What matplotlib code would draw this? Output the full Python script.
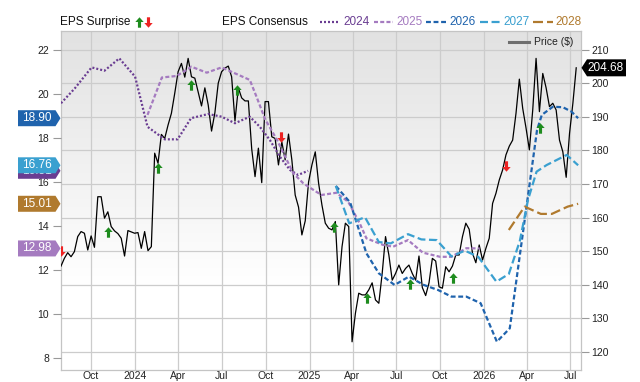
import numpy as np
import pandas as pd
import matplotlib
matplotlib.use("Agg")
import matplotlib.pyplot as plt
import matplotlib.dates as mdates
from matplotlib.path import Path
from matplotlib.patches import Polygon
from matplotlib.lines import Line2D

plt.rcParams['font.family'] = ['Liberation Sans', 'DejaVu Sans']

# ---------------- data ----------------
price_start = '2023-07-31'
price = [145.5, 147.8, 149.5, 148.3, 149.8, 154.3, 155.8, 155.3, 150.3, 154.5,
         151.1, 166.2, 166.2, 159.8, 161.7, 157.3, 156.0, 155.2, 153.8, 148.5,
         156.1, 155.7, 155.3, 155.5, 150.8, 155.8, 150.1, 151.3, 179.2, 176.2,
         184.8, 183.6, 187.6, 191.1, 197.1, 203.5, 206.0, 201.9, 207.5, 202.0,
         201.6, 197.5, 193.3, 198.7, 193.6, 185.8, 191.3, 200.1, 203.5, 204.6,
         205.2, 202.0, 188.8, 198.7, 195.7, 194.8, 194.8, 180.5, 172.2, 180.7,
         170.4, 194.6, 194.6, 184.1, 183.6, 175.7, 182.6, 177.2, 184.9, 177.2,
         166.7, 163.1, 154.8, 159.0, 170.6, 175.7, 179.6, 170.2, 163.7, 158.3,
         156.8, 156.3, 158.8, 139.9, 151.3, 158.3, 157.3, 122.9, 131.4, 137.4,
         136.9, 136.9, 138.4, 140.5, 135.4, 134.4, 143.3, 154.3, 148.8, 141.3,
         143.3, 145.8, 143.3, 144.8, 145.8, 143.3, 141.3, 148.5, 139.1, 136.7,
         140.5, 147.8, 147.0, 139.3, 138.9, 145.3, 143.8, 145.5, 148.8, 148.8,
         154.3, 158.3, 156.5, 149.3, 146.5, 151.8, 147.3, 150.8, 153.8, 164.2,
         167.2, 171.2, 174.2, 178.7, 181.3, 183.1, 191.1, 201.3, 192.6, 186.7,
         180.2, 192.1, 207.5, 191.6, 203.0, 198.7, 193.1, 194.1, 192.1, 183.1,
         179.6, 172.0, 185.1, 194.1, 204.68]

eps24_dates = ['2023-07-31', '2023-08-29', '2023-10-03', '2023-10-30', '2023-11-30',
               '2024-01-02', '2024-01-28', '2024-03-04', '2024-03-31', '2024-04-28',
               '2024-06-03', '2024-07-01', '2024-07-29', '2024-08-29', '2024-09-19',
               '2024-10-10', '2024-10-31', '2024-11-21', '2024-12-08', '2024-12-29']
eps24 = [19.58, 20.26, 21.21, 21.06, 21.62, 20.79, 18.51, 17.94, 17.94, 18.90,
         19.09, 18.97, 18.67, 18.97, 18.51, 17.91, 17.15, 16.55, 16.32, 16.51]

eps25_dates = ['2024-01-28', '2024-02-27', '2024-03-29', '2024-04-29', '2024-05-31',
               '2024-07-01', '2024-07-29', '2024-08-29', '2024-09-12', '2024-09-30',
               '2024-10-25', '2024-11-28', '2024-12-19', '2025-01-12', '2025-01-26',
               '2025-02-26', '2025-03-23', '2025-04-16', '2025-04-30', '2025-06-04',
               '2025-06-25', '2025-07-26', '2025-08-26', '2025-10-01', '2025-10-25',
               '2025-11-25', '2025-12-23']
eps25 = [19.05, 20.75, 20.82, 21.24, 20.97, 21.21, 20.94, 20.64, 19.88, 18.86,
         17.91, 16.40, 15.94, 15.60, 15.41, 15.51, 15.10, 14.12, 13.44, 13.14,
         13.06, 13.36, 12.79, 12.60, 12.60, 12.99, 12.98]

eps26_dates = ['2025-02-25', '2025-03-27', '2025-04-10', '2025-04-30', '2025-05-26',
               '2025-06-28', '2025-07-28', '2025-08-28', '2025-09-27', '2025-10-25',
               '2025-11-25', '2025-12-25', '2026-01-28', '2026-02-24', '2026-04-22',
               '2026-05-02', '2026-05-25', '2026-06-15', '2026-07-03', '2026-07-17']
eps26 = [15.82, 15.07, 14.12, 12.76, 11.85, 11.32, 11.70, 11.32, 11.09, 10.79,
         10.79, 10.49, 8.74, 9.35, 18.36, 19.05, 19.42, 19.40, 19.20, 18.90]

eps27_dates = ['2025-02-25', '2025-03-25', '2025-04-27', '2025-05-26', '2025-06-20',
               '2025-07-26', '2025-08-23', '2025-09-24', '2025-10-25', '2025-11-22',
               '2025-12-20', '2026-01-27', '2026-02-22', '2026-03-17', '2026-04-03',
               '2026-04-21', '2026-05-12', '2026-06-23', '2026-07-17']
eps27 = [15.82, 14.12, 14.40, 13.27, 13.21, 13.63, 13.39, 13.36, 12.62, 12.88,
         12.60, 11.47, 11.82, 13.32, 15.18, 16.47, 16.77, 17.23, 16.76]

eps28_dates = ['2026-02-22', '2026-03-27', '2026-04-30', '2026-05-23', '2026-06-25', '2026-07-17']
eps28 = [13.82, 14.88, 14.55, 14.55, 14.88, 15.01]

surp_dates = ['2023-07-31', '2023-11-06', '2024-02-19', '2024-04-28', '2024-08-03',
              '2024-11-02', '2025-02-21', '2025-05-01', '2025-07-30', '2025-10-28',
              '2026-02-17', '2026-04-28']
surp_price = [150.0, 155.8, 174.7, 199.6, 198.1, 184.1, 157.1, 135.9, 140.2, 141.9,
              175.4, 186.6]
surp_dir = ['down', 'up', 'up', 'up', 'up', 'down', 'up', 'up', 'up', 'up', 'down', 'up']

series_names = ['2024', '2025', '2026', '2027', '2028']
series_colors = ['#6a3d92', '#a57bc0', '#1f63ad', '#3aa0d0', '#b07a2e']
series_styles = [(0, (0.9, 0.9)), (0, (1.8, 1.0)), (0, (2.2, 1.2)), (0, (3.6, 1.6)), (0, (4.5, 1.8))]

left_ticks = [8, 10, 12, 14, 16, 18, 20, 22]
right_ticks = [120, 130, 140, 150, 160, 170, 180, 190, 200, 210]
xtick_dates = ['2023-10-01', '2024-01-01', '2024-04-01', '2024-07-01', '2024-10-01',
               '2025-01-01', '2025-04-01', '2025-07-01', '2025-10-01', '2026-01-01',
               '2026-04-01', '2026-07-01']
xtick_labels = ['Oct', '2024', 'Apr', 'Jul', 'Oct', '2025', 'Apr', 'Jul', 'Oct', '2026',
                'Apr', 'Jul']

# ---------------- layout ----------------
W, H = 640, 382
L, R, T, B = 61, 581, 31, 370
fig = plt.figure(figsize=(W / 100, H / 100), dpi=100)
fig.patch.set_facecolor('white')
rect = [L / W, 1 - B / H, (R - L) / W, (B - T) / H]

xmin = mdates.date2num(pd.Timestamp('2023-07-31'))
xmax = mdates.date2num(pd.Timestamp('2026-07-23'))
plo, phi = 114.48, 215.67
elo, ehi = 7.4545, 22.864

ax = fig.add_axes(rect)
# gradient background
n = 256
frac_top = 1 - np.arange(n) / (n - 1)
vals = 0.885 + 0.115 * np.clip(frac_top / 0.75, 0, 1)
img = np.dstack([vals, vals, vals]).reshape(n, 1, 3)
ax.imshow(img, extent=[0, 1, 0, 1], transform=ax.transAxes, aspect='auto',
          origin='lower', zorder=0, interpolation='bilinear')

pdates = pd.date_range(price_start, periods=len(price), freq='7D')
ax.plot(mdates.date2num(pdates), price, color='black', lw=0.9, zorder=3)

ax.set_xlim(xmin, xmax)
ax.set_ylim(plo, phi)
ax.set_yticks(right_ticks)
ax.set_xticks(mdates.date2num(pd.to_datetime(xtick_dates)))
ax.set_xticklabels(xtick_labels)
ax.grid(True, color='#cccccc', lw=0.9, zorder=1)
ax.set_axisbelow(True)
for s in ax.spines.values():
    s.set_color('#c4c4c4')
    s.set_linewidth(0.9)

ax_eps = ax.twinx()
ax_eps.set_ylim(elo, ehi)
ax_eps.set_xlim(xmin, xmax)
# price axis on the right, EPS axis on the left
ax.yaxis.tick_right()
ax_eps.yaxis.tick_left()
ax_eps.set_yticks(left_ticks)
ax.tick_params(axis='y', length=6, width=0.8, color='#999999', pad=1.5,
               labelsize=7.5, labelcolor='#222222')
ax.tick_params(axis='x', length=0, pad=0.8, labelsize=7.5, labelcolor='#222222')
ax_eps.tick_params(axis='y', length=6, width=0.8, color='#999999', pad=2.5,
                   labelsize=7.5, labelcolor='#222222')
for s in ax_eps.spines.values():
    s.set_visible(False)

all_dates = [eps24_dates, eps25_dates, eps26_dates, eps27_dates, eps28_dates]
all_vals = [eps24, eps25, eps26, eps27, eps28]
for d, v, c, ls in zip(all_dates, all_vals, series_colors, series_styles):
    ax_eps.plot(mdates.date2num(pd.to_datetime(d)), v, color=c, lw=1.6,
                linestyle=ls, zorder=4)

# surprise arrows
up_verts = [(0, 1), (0.8, 0.1), (0.3, 0.1), (0.3, -1), (-0.3, -1), (-0.3, 0.1), (-0.8, 0.1), (0, 1)]
up_path = Path(up_verts, closed=True)
down_path = Path([(x, -y) for x, y in up_verts], closed=True)
green, red = '#1e8c1e', '#ee2222'

ax_arr = fig.add_axes(rect)
ax_arr.set_xlim(xmin, xmax)
ax_arr.set_ylim(plo, phi)
ax_arr.axis('off')
ax_arr.patch.set_visible(False)
sx = mdates.date2num(pd.to_datetime(surp_dates))
for x, p, d in zip(sx, surp_price, surp_dir):
    ax_arr.plot([x], [p], marker=up_path if d == 'up' else down_path,
                markersize=7.5, color=green if d == 'up' else red,
                markeredgewidth=0, linestyle='none', clip_on=True)

# ---------------- value tags ----------------
def fig_y(axis, v):
    return axis.transData.transform((xmin, v))[1] / H

def left_tag(v, color, text, z):
    yc = fig_y(ax_eps, v)
    hh = 8 / H
    x0, x1, xt = 18 / W, 55.5 / W, 60.5 / W
    poly = Polygon([(x0, yc - hh), (x1, yc - hh), (xt, yc), (x1, yc + hh), (x0, yc + hh)],
                   closed=True, transform=fig.transFigure, facecolor=color,
                   edgecolor='none', zorder=z)
    fig.add_artist(poly)
    fig.text(37 / W, yc, text, color='white', fontsize=8.5, ha='center', va='center',
             zorder=z + 0.5)

order = [0, 4, 2, 1, 3]  # 2027 drawn above 2024
for j, i in enumerate(order):
    left_tag(all_vals[i][-1], series_colors[i], f"{all_vals[i][-1]:.2f}", 5 + j)

yc = fig_y(ax, price[-1])
hh = 8.5 / H
poly = Polygon([(581.5 / W, yc), (587 / W, yc - hh), (626 / W, yc - hh), (626 / W, yc + hh),
                (587 / W, yc + hh)], closed=True, transform=fig.transFigure,
               facecolor='black', edgecolor='none', zorder=5)
fig.add_artist(poly)
fig.text(606 / W, yc, f"{price[-1]:.2f}", color='white', fontsize=8.5, ha='center',
         va='center', zorder=6)

# ---------------- header legend ----------------
hy = 1 - 22 / H
fig.text(60.5 / W, hy, 'EPS Surprise', fontsize=8.5, color='#111111', va='center', ha='left')
fig.add_artist(Line2D([138.5 / W], [hy], marker=up_path, markersize=7.5, color=green,
                      markeredgewidth=0, linestyle='none', transform=fig.transFigure))
fig.add_artist(Line2D([148.4 / W], [hy], marker=down_path, markersize=7.5, color=red,
                      markeredgewidth=0, linestyle='none', transform=fig.transFigure))
fig.text(222.5 / W, hy, 'EPS Consensus', fontsize=8.5, color='#111111', va='center', ha='left')
samples = [(319.7, 339.3, 343.4), (373.8, 393.4, 396.7), (426.2, 446.7, 449.6),
           (479.5, 500.0, 503.3), (532.8, 553.3, 555.3)]
for (s0, s1, tx), name, c, ls in zip(samples, series_names, series_colors, series_styles):
    fig.add_artist(Line2D([s0 / W, s1 / W], [hy, hy], color=c, lw=1.6, linestyle=ls,
                          transform=fig.transFigure))
    fig.text(tx / W, hy, name, fontsize=8.5, color=c, va='center', ha='left')

# price legend inside plot
py = 1 - 42 / H
fig.add_artist(Line2D([509 / W, 529 / W], [py, py], color='#6e6e6e', lw=2.2,
                      transform=fig.transFigure, zorder=6))
fig.text(534 / W, py, 'Price ($)', fontsize=7.5, color='#222222', va='center', ha='left',
         zorder=6)

fig.savefig('out.png', dpi=100)
